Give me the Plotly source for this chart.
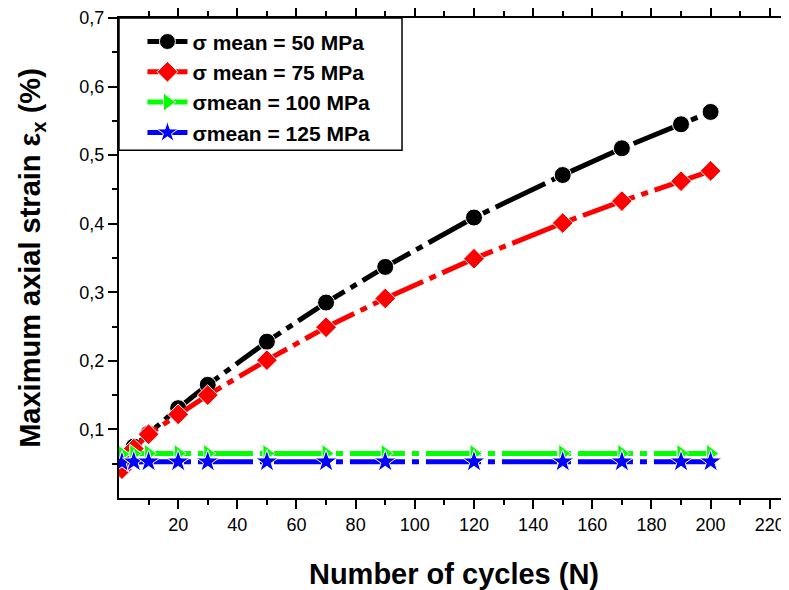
import plotly.graph_objects as go

cycles = [1, 5, 10, 20, 30, 50, 70, 90, 120, 150, 170, 190, 200]
strain_50 = [0.050, 0.075, 0.094, 0.131, 0.165, 0.228, 0.285, 0.337, 0.409, 0.471, 0.510, 0.545, 0.563]
strain_75 = [0.042, 0.072, 0.093, 0.122, 0.150, 0.201, 0.249, 0.291, 0.349, 0.401, 0.433, 0.462, 0.477]
strain_100 = [0.064, 0.065, 0.065, 0.065, 0.065, 0.065, 0.065, 0.065, 0.065, 0.065, 0.065, 0.065, 0.065]
strain_125 = [0.052, 0.053, 0.053, 0.053, 0.053, 0.053, 0.053, 0.053, 0.053, 0.053, 0.053, 0.053, 0.053]

names = ["σ mean = 50 MPa", "σ mean = 75 MPa", "σmean = 100 MPa", "σmean = 125 MPa"]
colors = ["#000000", "#ff0000", "#00ff00", "#0000ff"]
symbols = ["circle", "diamond", "triangle-right", "star"]
sizes = [17, 16, 16, 17]
series = [strain_50, strain_75, strain_100, strain_125]

FONT = "Arial, Liberation Sans, sans-serif"

fig = go.Figure()
for name, col, sym, sz, ys in zip(names, colors, symbols, sizes, series):
    fig.add_trace(go.Scatter(
        x=cycles, y=ys, name=name, mode="lines+markers",
        line=dict(color=col, width=5, dash="55px,7px,7px,7px"),
        marker=dict(symbol=sym, size=sz, color=col, line=dict(color="white", width=1)),
    ))

# page body has an 8px default margin, so the figure is sized to fit the 789x590 window
fig.update_layout(
    width=781, height=582,
    margin=dict(l=111, r=0, t=10, b=92),
    paper_bgcolor="white", plot_bgcolor="white",
    separators=", ",
    font=dict(family=FONT, color="black", size=18),
    showlegend=True,
    legend=dict(
        x=0.035, y=0.993, xanchor="left", yanchor="top",
        borderwidth=0, bgcolor="rgba(255,255,255,0)",
        font=dict(family=FONT, size=21, weight="bold", color="black"),
        tracegroupgap=0, itemwidth=40,
    ),
    shapes=[dict(
        type="rect", xref="paper", yref="paper",
        x0=0, x1=0.4224, y0=0.7246, y1=1,
        line=dict(color="black", width=1.5), fillcolor="white", layer="below",
    )],
)

fig.update_xaxes(
    range=[0, 226.5], automargin=False,
    tickvals=[20, 40, 60, 80, 100, 120, 140, 160, 180, 200, 220],
    ticks="outside", ticklen=9, tickwidth=2, tickcolor="black",
    minor=dict(tickvals=[10, 30, 50, 70, 90, 110, 130, 150, 170, 190, 210], ticks="outside", ticklen=5, tickwidth=2, tickcolor="black"),
    showline=True, linecolor="black", linewidth=2, mirror="ticks",
    showgrid=False, zeroline=False,
    tickfont=dict(family=FONT, size=18, color="black"),
    title=dict(text="Number of cycles (N)", font=dict(family=FONT, size=29, weight="bold", color="black"), standoff=36),
)
fig.update_yaxes(
    range=[0, 0.7], automargin=False,
    tickvals=[0.1, 0.2, 0.3, 0.4, 0.5, 0.6, 0.7],
    ticktext=["0,1", "0,2", "0,3", "0,4", "0,5", "0,6", "0,7"],
    ticks="outside", ticklen=9, tickwidth=2, tickcolor="black",
    minor=dict(tickvals=[0.05, 0.15, 0.25, 0.35, 0.45, 0.55, 0.65], ticks="outside", ticklen=5, tickwidth=2, tickcolor="black"),
    showline=True, linecolor="black", linewidth=2, mirror=False,
    showgrid=False, zeroline=False,
    tickfont=dict(family=FONT, size=18, color="black"),
    title=dict(text="Maximum axial strain ε<sub>x</sub> (%)", font=dict(family=FONT, size=29, weight="bold", color="black"), standoff=30),
)

fig.write_html("out.html")
